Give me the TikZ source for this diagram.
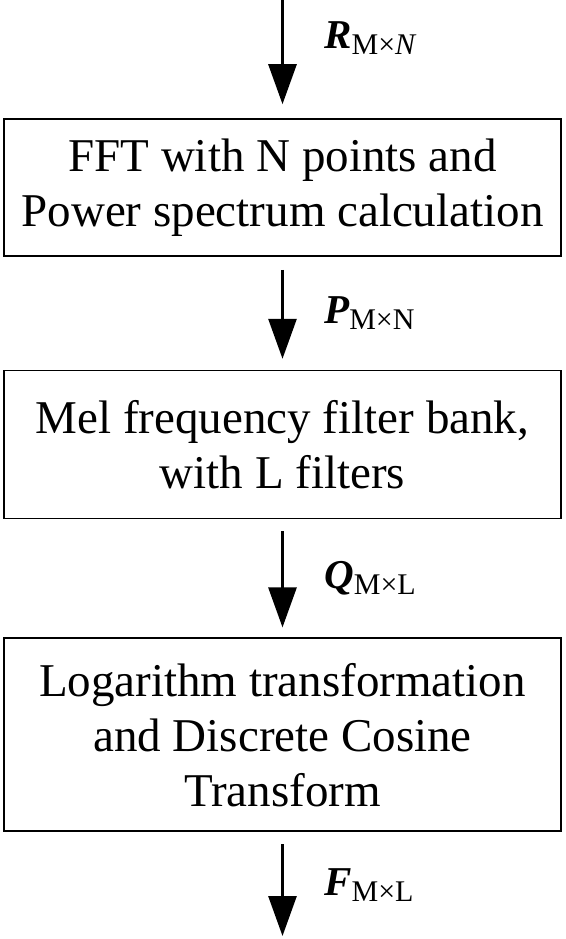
\documentclass[tikz,border=0pt]{standalone}
\usepackage{fontspec}
\setmainfont{Liberation Serif}
\usepackage{tikz}
\usetikzlibrary{positioning,arrows.meta}

% matrix name with subscript dimensions
\newcommand{\sigmat}[2]{{\fontsize{41}{41}\selectfont\bfseries\itshape #1}{\fontsize{30}{30}\selectfont\raisebox{-6pt}{#2}}}

\begin{document}
\begin{tikzpicture}[
    x=1pt, y=1pt,
    box/.style={
        rectangle,
        draw=black,
        line width=1.6pt,
        fill=white,
        align=center,
        minimum width=557pt,
        inner sep=0pt,
        font=\fontsize{47}{55}\selectfont
    },
    arrow/.style={
        -{Triangle[length=40pt,width=28pt]},
        line width=2.8pt,
        draw=black
    },
    sig/.style={
        anchor=west,
        xshift=37pt
    }
]
\useasboundingbox (0,0) rectangle (565,-939);

% Input and output ends
\coordinate (in) at (282.5,0);
\coordinate (out) at (282.5,-939);

% Processing blocks
\node[box, minimum height=137pt] (fft) at (282.5,-187.5) {FFT with N points and\\Power spectrum calculation};
\node[box, minimum height=148pt, below=113pt of fft] (mel) {Mel frequency filter bank,\\with L filters};
\node[box, minimum height=193pt, below=118pt of mel] (dct) {Logarithm transformation\\and Discrete Cosine\\Transform};

% Connections
\draw[arrow, shorten >=14pt] (in) -- node[sig, pos=0.32] {\sigmat{R}{M×\textit{N}}} (fft);
\draw[arrow, shorten <=13pt, shorten >=11pt] (fft) -- node[sig] {\sigmat{P}{M×N}} (mel);
\draw[arrow, shorten <=12pt, shorten >=10pt] (mel) -- node[sig] {\sigmat{Q}{M×L}} (dct);
\draw[arrow, shorten <=12pt, shorten >=3pt] (dct) -- node[sig] {\sigmat{F}{M×L}} (out);

\end{tikzpicture}
\end{document}
